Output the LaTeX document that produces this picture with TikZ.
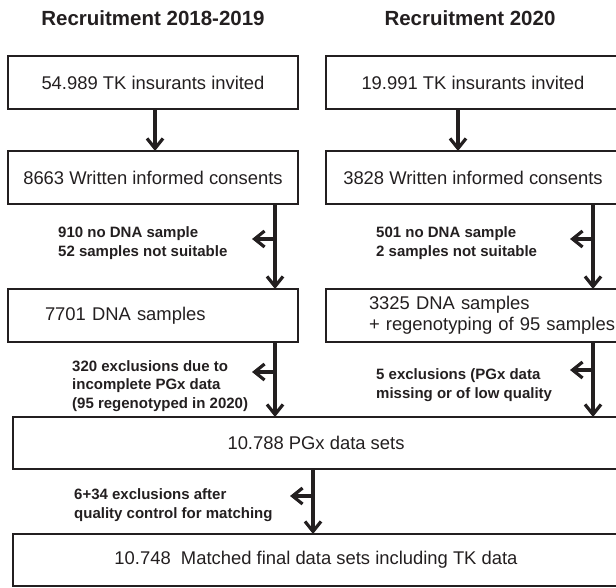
\documentclass[tikz,border=0pt]{standalone}
\usepackage{fontspec}
\setmainfont{Liberation Sans}
\usepackage{tikz}
\usetikzlibrary{positioning}
\usetikzlibrary{arrows.meta}

\definecolor{inkgray}{HTML}{231F20}

\begin{document}
\begin{tikzpicture}[x=1pt, y=1pt,
        stagebox/.style={rectangle, draw=inkgray, line width=1.2pt, outer sep=0pt, inner sep=0pt, minimum height=53pt, text=inkgray, font=\fontsize{18.4}{21}\selectfont},
        flowarrow/.style={draw=inkgray, line width=3.2pt, -{Straight Barb[length=10pt, width=16pt, line width=3.2pt]}},
        droplabel/.style={anchor=west, align=left, inner sep=0pt, text=inkgray, font=\bfseries\fontsize{15}{18.5}\selectfont},
        headline/.style={text=inkgray, font=\bfseries\fontsize{20.5}{24}\selectfont}]
        \useasboundingbox (0,0) rectangle (616,-588);

        \node[headline] (lhead) at (153,-18) {Recruitment 2018-2019};
        \node[headline] (rhead) at (470,-18) {Recruitment 2020};

        \node[stagebox, minimum width=290pt] (linv) at (153,-82.5) {54.989 TK insurants invited};
        \node[stagebox, minimum width=294pt] (rinv) at (473,-82.5) {19.991 TK insurants invited};
        \node[stagebox, minimum width=290pt] (lcons) [below=42pt of linv] {8663 Written informed consents};
        \node[stagebox, minimum width=294pt] (rcons) [below=42pt of rinv] {3828 Written informed consents};
        \node[stagebox, inner xsep=37pt, text width=216pt, align=left] (ldna) [below=85pt of lcons] {7701 DNA samples};
        \node[stagebox, inner xsep=43pt, text width=250pt, align=left] (rdna) [below=85pt of rcons.south west, anchor=north west] {3325 DNA samples\\+ regenotyping of 95 samples};
        \node[stagebox, minimum width=606pt, minimum height=52pt] (pgx) at (316,-443) {10.788 PGx data sets};
        \node[stagebox, minimum width=606pt, minimum height=52pt] (final) [below=65pt of pgx] {10.748\ \ Matched final data sets including TK data};

        \coordinate (lcut1) at ([xshift=122pt]lcons.south);
        \coordinate (rcut1) at ([xshift=120pt]rcons.south);
        \coordinate (lcut2) at (lcut1 |- ldna.south);
        \coordinate (rcut2) at (rcut1 |- rdna.south);
        \coordinate (pcut) at ([xshift=-3pt]pgx.south);
        \coordinate (lout1) at (252,-239);
        \coordinate (rout1) at (570,-239);
        \coordinate (lout2) at (252,-372);
        \coordinate (rout2) at (570,-370);
        \coordinate (pout) at (290,-496);

        \draw[flowarrow] ([xshift=2pt]linv.south) -- ([xshift=2pt]lcons.north);
        \draw[flowarrow] ([xshift=-15pt]rinv.south) -- ([xshift=-15pt]rcons.north);
        \draw[flowarrow] (lcut1) -- (lcut1 |- ldna.north);
        \draw[flowarrow] (rcut1) -- (rcut1 |- rdna.north);
        \draw[flowarrow] (lcut2) -- (lcut2 |- pgx.north);
        \draw[flowarrow] (rcut2) -- (rcut2 |- pgx.north);
        \draw[flowarrow] (pcut) -- (pcut |- final.north);

        \draw[flowarrow] (lout1 -| lcut1) -- (lout1);
        \draw[flowarrow] (rout1 -| rcut1) -- (rout1);
        \draw[flowarrow] (lout2 -| lcut2) -- (lout2);
        \draw[flowarrow] (rout2 -| rcut2) -- (rout2);
        \draw[flowarrow] (pout -| pcut) -- (pout);

        \node[droplabel] (lloss1) at (58,-243) {910 no DNA sample\\52 samples not suitable};
        \node[droplabel] (rloss1) at (376,-243) {501 no DNA sample\\2 samples not suitable};
        \node[droplabel] (lloss2) at (72,-386) {320 exclusions due to\\incomplete PGx data\\(95 regenotyped in 2020)};
        \node[droplabel] (rloss2) at (376,-385) {5 exclusions (PGx data\\missing or of low quality};
        \node[droplabel] (ploss) at (74,-505) {6+34 exclusions after\\quality control for matching};
    \end{tikzpicture}
\end{document}
